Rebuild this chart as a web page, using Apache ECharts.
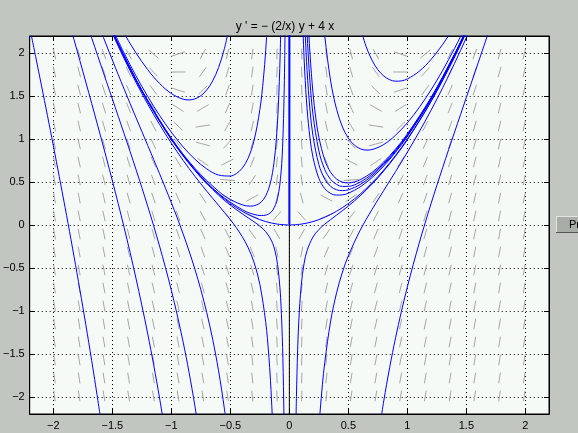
<!DOCTYPE html>
<html><head><meta charset="utf-8">
<script src="https://cdn.jsdelivr.net/npm/echarts@6/dist/echarts.min.js"></script>
<style>html,body{margin:0;padding:0;background:#c1c6c0;}#c{width:578px;height:433px;}</style>
</head><body><div id="c"></div>
<script>
// ---- chart text ----
const titleText = "y ' = \u2212 (2/x) y + 4 x";
const buttonText = "Pr";

// ---- direction field grid (positions and slope angles in degrees) ----
const fieldX = [-1.990,-1.781,-1.571,-1.362,-1.152,-0.943,-0.733,-0.524,-0.314,-0.105,0.105,0.314,0.524,0.733,0.943,1.152,1.362,1.571,1.781,1.990];
const fieldY = [-1.990,-1.781,-1.571,-1.362,-1.152,-0.943,-0.733,-0.524,-0.314,-0.105,0.105,0.314,0.524,0.733,0.943,1.152,1.362,1.571,1.781,1.990];
// one row per fieldX column, values along fieldY (bottom to top)
const fieldAngle = [
 [-84.3,-84.1,-84.0,-83.9,-83.7,-83.6,-83.4,-83.3,-83.1,-82.9,-82.7,-82.5,-82.3,-82.1,-81.9,-81.6,-81.4,-81.1,-80.8,-80.5],
 [-83.9,-83.7,-83.6,-83.4,-83.2,-83.0,-82.8,-82.6,-82.4,-82.1,-81.9,-81.6,-81.3,-81.0,-80.6,-80.3,-79.9,-79.4,-79.0,-78.4],
 [-83.5,-83.3,-83.1,-82.9,-82.7,-82.4,-82.1,-81.8,-81.5,-81.1,-80.8,-80.4,-79.9,-79.4,-78.9,-78.3,-77.6,-76.9,-76.0,-75.1],
 [-83.2,-82.9,-82.7,-82.4,-82.0,-81.7,-81.3,-80.9,-80.4,-79.9,-79.3,-78.7,-77.9,-77.1,-76.2,-75.1,-73.8,-72.3,-70.6,-68.4],
 [-82.9,-82.6,-82.2,-81.8,-81.4,-80.9,-80.4,-79.7,-79.0,-78.2,-77.3,-76.2,-74.9,-73.3,-71.4,-69.0,-66.0,-62.0,-56.6,-49.1],
 [-82.9,-82.5,-82.0,-81.5,-80.9,-80.2,-79.4,-78.4,-77.3,-75.9,-74.3,-72.1,-69.4,-65.7,-60.5,-53.0,-41.4,-23.7,0.4,24.3],
 [-83.2,-82.7,-82.1,-81.4,-80.7,-79.7,-78.5,-77.1,-75.2,-72.7,-69.3,-64.3,-56.4,-43.0,-19.9,11.8,38.0,53.5,62.5,68.2],
 [-84.1,-83.6,-83.0,-82.2,-81.2,-80.0,-78.5,-76.3,-73.1,-68.2,-59.5,-41.8,-5.4,35.2,56.4,66.5,72.1,75.6,78.0,79.7],
 [-85.9,-85.5,-84.9,-84.2,-83.4,-82.2,-80.4,-77.7,-72.9,-62.5,-30.5,36.6,64.3,73.7,78.1,80.7,82.3,83.5,84.3,85.0],
 [-88.5,-88.3,-88.1,-87.8,-87.4,-86.9,-86.0,-84.5,-81.1,-67.5,57.7,79.8,84.0,85.8,86.7,87.3,87.8,88.1,88.3,88.5],
 [88.5,88.3,88.1,87.8,87.4,86.9,86.0,84.5,81.1,67.5,-57.7,-79.8,-84.0,-85.8,-86.7,-87.3,-87.8,-88.1,-88.3,-88.5],
 [85.9,85.5,84.9,84.2,83.4,82.2,80.4,77.7,72.9,62.5,30.5,-36.6,-64.3,-73.7,-78.1,-80.7,-82.3,-83.5,-84.3,-85.0],
 [84.1,83.6,83.0,82.2,81.2,80.0,78.5,76.3,73.1,68.2,59.5,41.8,5.4,-35.2,-56.4,-66.5,-72.1,-75.6,-78.0,-79.7],
 [83.2,82.7,82.1,81.4,80.7,79.7,78.5,77.1,75.2,72.7,69.3,64.3,56.4,43.0,19.9,-11.8,-38.0,-53.5,-62.5,-68.2],
 [82.9,82.5,82.0,81.5,80.9,80.2,79.4,78.4,77.3,75.9,74.3,72.1,69.4,65.7,60.5,53.0,41.4,23.7,-0.4,-24.3],
 [82.9,82.6,82.2,81.8,81.4,80.9,80.4,79.7,79.0,78.2,77.3,76.2,74.9,73.3,71.4,69.0,66.0,62.0,56.6,49.1],
 [83.2,82.9,82.7,82.4,82.0,81.7,81.3,80.9,80.4,79.9,79.3,78.7,77.9,77.1,76.2,75.1,73.8,72.3,70.6,68.4],
 [83.5,83.3,83.1,82.9,82.7,82.4,82.1,81.8,81.5,81.1,80.8,80.4,79.9,79.4,78.9,78.3,77.6,76.9,76.0,75.1],
 [83.9,83.7,83.6,83.4,83.2,83.0,82.8,82.6,82.4,82.1,81.9,81.6,81.3,81.0,80.6,80.3,79.9,79.4,79.0,78.4],
 [84.3,84.1,84.0,83.9,83.7,83.6,83.4,83.3,83.1,82.9,82.7,82.5,82.3,82.1,81.9,81.6,81.4,81.1,80.8,80.5]
];

// ---- solution curves, points [x, y] ----
const solA = [[-2.2,2.30],[-2.15,1.962],[-2.1,1.62],[-2.05,1.276],[-2.0,0.925],[-1.9,0.203],[-1.85,-0.171],[-1.8,-0.556],[-1.75,-0.954],[-1.7,-1.366],[-1.65,-1.796],[-1.6,-2.245]];
const solB = [[-1.9,2.53],[-1.85,2.283],[-1.8,2.036],[-1.75,1.789],[-1.7,1.541],[-1.65,1.29],[-1.6,1.037],[-1.55,0.779],[-1.5,0.517],[-1.45,0.248],[-1.4,-0.03],[-1.35,-0.317],[-1.3,-0.618],[-1.25,-0.934],[-1.2,-1.268],[-1.15,-1.626],[-1.1,-2.013],[-1.05,-2.435]];
const solC = [[-1.8,2.697],[-1.7,2.281],[-1.65,2.076],[-1.6,1.873],[-1.55,1.67],[-1.5,1.468],[-1.45,1.266],[-1.4,1.062],[-1.35,0.857],[-1.3,0.649],[-1.25,0.436],[-1.2,0.218],[-1.15,-0.008],[-1.1,-0.245],[-1.05,-0.494],[-1.0,-0.76],[-0.95,-1.048],[-0.9,-1.363],[-0.85,-1.714],[-0.8,-2.11],[-0.75,-2.566]];
const solD = [[-1.7,2.634],[-1.6,2.271],[-1.5,1.921],[-1.4,1.582],[-1.3,1.252],[-1.2,0.926],[-1.1,0.598],[-1.0,0.26],[-0.95,0.083],[-0.9,-0.104],[-0.85,-0.302],[-0.8,-0.516],[-0.75,-0.753],[-0.7,-1.02],[-0.65,-1.329],[-0.6,-1.696],[-0.55,-2.144],[-0.5,-2.71]];
const solE = [[-1.4,2.230],[-1.3,2.004],[-1.2,1.808],[-1.1,1.648],[-1.0,1.53],[-0.9,1.464],[-0.85,1.456],[-0.8,1.468],[-0.75,1.505],[-0.7,1.572],[-0.65,1.677],[-0.6,1.832],[-0.55,2.055],[-0.5,2.37]];
const solF = [[-1.5,2.286],[-1.4,2.001],[-1.3,1.737],[-1.2,1.496],[-1.1,1.276],[-1.0,1.08],[-0.9,0.909],[-0.8,0.765],[-0.7,0.653],[-0.6,0.582],[-0.5,0.57],[-0.45,0.598],[-0.4,0.66],[-0.35,0.776],[-0.3,0.979],[-0.25,1.343],[-0.22,1.701],[-0.2,2.04],[-0.18,2.50]];
const solK = [[-1.5,2.229],[-1.4,1.936],[-1.3,1.662],[-1.2,1.407],[-1.1,1.171],[-1.0,0.953],[-0.9,0.752],[-0.8,0.567],[-0.7,0.394],[-0.6,0.229],[-0.5,0.062],[-0.45,-0.03],[-0.4,-0.134],[-0.35,-0.261],[-0.3,-0.432],[-0.25,-0.69],[-0.2,-1.135],[-0.175,-1.504],[-0.16,-1.81],[-0.145,-2.214],[-0.14,-2.378]];
const solL = [[-1.5,2.248],[-1.3,1.687],[-1.2,1.437],[-1.0,0.995],[-0.8,0.633],[-0.6,0.347],[-0.5,0.231],[-0.4,0.131],[-0.3,0.038],[-0.25,-0.013],[-0.2,-0.078],[-0.15,-0.186],[-0.12,-0.312],[-0.1,-0.46],[-0.08,-0.728],[-0.07,-0.954],[-0.06,-1.302],[-0.055,-1.551],[-0.05,-1.878],[-0.046,-2.219],[-0.044,-2.426]];
const solM = [[-1.5,2.255],[-1.3,1.697],[-1.2,1.448],[-1.0,1.012],[-0.8,0.659],[-0.6,0.393],[-0.5,0.298],[-0.4,0.235],[-0.33,0.219],[-0.28,0.232],[-0.24,0.266],[-0.2,0.34],[-0.16,0.494],[-0.13,0.727],[-0.11,1.004],[-0.095,1.339],[-0.085,1.668],[-0.078,1.979],[-0.073,2.257]];
const solN = [[-1.5,2.251],[-1.3,1.692],[-1.0,1.003],[-0.8,0.645],[-0.6,0.368],[-0.4,0.179],[-0.3,0.123],[-0.234,0.11],[-0.18,0.125],[-0.14,0.173],[-0.1,0.31],[-0.07,0.617],[-0.055,0.995],[-0.045,1.484],[-0.04,1.877],[-0.036,2.316]];
const solZeroLeft = [[-1.5,2.25],[-1.4,1.96],[-1.3,1.69],[-1.2,1.44],[-1.1,1.21],[-1.0,1.0],[-0.9,0.81],[-0.8,0.64],[-0.7,0.49],[-0.6,0.36],[-0.5,0.25],[-0.4,0.16],[-0.3,0.09],[-0.2,0.04],[-0.1,0.01],[0,0]];
const solH = [[0.75,-2.495],[0.8,-2.048],[0.85,-1.658],[0.9,-1.313],[0.95,-1.003],[1.0,-0.72],[1.05,-0.458],[1.1,-0.212],[1.15,0.022],[1.2,0.246],[1.25,0.462],[1.3,0.672],[1.35,0.879],[1.4,1.082],[1.45,1.284],[1.5,1.486],[1.55,1.687],[1.6,1.888],[1.65,2.091],[1.7,2.295]];
const solG = [[0.6,2.304],[0.65,2.079],[0.7,1.919],[0.75,1.807],[0.8,1.734],[0.85,1.691],[0.9,1.674],[0.95,1.678],[1.0,1.70],[1.1,1.789],[1.2,1.926],[1.3,2.104],[1.35,2.207],[1.4,2.317]];
const solI = [[0.28,2.502],[0.3,2.201],[0.35,1.674],[0.4,1.348],[0.45,1.141],[0.5,1.01],[0.55,0.931],[0.6,0.888],[0.65,0.872],[0.7,0.878],[0.8,0.937],[0.9,1.045],[1.0,1.19],[1.1,1.367],[1.2,1.572],[1.3,1.802],[1.4,2.057],[1.45,2.193],[1.5,2.334]];
const solU1 = [[0.11,2.491],[0.115,2.281],[0.12,2.098],[0.13,1.792],[0.15,1.356],[0.175,1.01],[0.2,0.79],[0.25,0.543],[0.3,0.423],[0.35,0.367],[0.4,0.348],[0.45,0.351],[0.5,0.37],[0.6,0.443],[0.7,0.551],[0.8,0.687],[0.9,0.847],[1.0,1.03],[1.2,1.461],[1.4,1.975],[1.5,2.263]];
const solU2 = [[0.12,2.792],[0.135,2.213],[0.15,1.80],[0.175,1.337],[0.2,1.04],[0.25,0.703],[0.3,0.534],[0.35,0.449],[0.4,0.41],[0.45,0.40],[0.5,0.41],[0.6,0.471],[0.7,0.572],[0.8,0.703],[0.9,0.859],[1.0,1.04],[1.2,1.468],[1.4,1.98],[1.5,2.268]];
const solU3 = [[0.14,2.571],[0.15,2.245],[0.16,1.979],[0.175,1.664],[0.2,1.29],[0.25,0.863],[0.3,0.646],[0.35,0.531],[0.4,0.473],[0.45,0.449],[0.5,0.45],[0.6,0.499],[0.7,0.592],[0.8,0.718],[0.9,0.872],[1.0,1.05],[1.2,1.475],[1.4,1.986],[1.5,2.272]];
const solU4 = [[0.15,2.689],[0.165,2.231],[0.175,1.99],[0.2,1.54],[0.225,1.236],[0.25,1.023],[0.3,0.757],[0.35,0.612],[0.4,0.535],[0.45,0.499],[0.5,0.49],[0.55,0.501],[0.6,0.527],[0.7,0.612],[0.8,0.734],[0.9,0.884],[1.0,1.06],[1.2,1.482],[1.4,1.991],[1.5,2.277]];
const solR1 = [[0.25,-2.37],[0.26,-2.181],[0.28,-1.86],[0.3,-1.599],[0.35,-1.118],[0.4,-0.79],[0.45,-0.548],[0.5,-0.358],[0.6,-0.062],[0.7,0.18],[0.8,0.403],[0.9,0.622],[1.0,0.848],[1.1,1.084],[1.2,1.334],[1.3,1.60],[1.4,1.882],[1.5,2.182],[1.55,2.339]];
const solR2 = [[0.055,-2.377],[0.06,-1.996],[0.07,-1.465],[0.08,-1.119],[0.1,-0.71],[0.125,-0.445],[0.15,-0.298],[0.2,-0.14],[0.25,-0.053],[0.3,0.01],[0.4,0.115],[0.5,0.221],[0.6,0.34],[0.7,0.475],[0.8,0.629],[0.9,0.801],[1.0,0.993],[1.2,1.435],[1.4,1.956],[1.5,2.247]];
const solZero = [[0,0],[0.1,0.01],[0.2,0.04],[0.3,0.09],[0.4,0.16],[0.5,0.25],[0.6,0.36],[0.7,0.49],[0.8,0.64],[0.9,0.81],[1.0,1.0],[1.1,1.21],[1.2,1.44],[1.3,1.69],[1.4,1.96],[1.5,2.25]];
const solVert = [[0,2.3],[0,0.01]];
const solVertLow = [[0,0],[0,-2.3]];

const blueCurves = [solA,solB,solC,solD,solE,solF,solK,solL,solM,solN,solZeroLeft,solH,solG,solI,solU1,solU2,solU3,solU4,solR1,solR2,solZero];

// ---- build ----
const fieldData = [];
for (let i = 0; i < fieldX.length; i++) {
  for (let j = 0; j < fieldY.length; j++) {
    fieldData.push([fieldX[i], fieldY[j], fieldAngle[i][j]]);
  }
}
const DASH = 0.125; // dash length in data units
const FONT = '"Liberation Sans", Arial, Helvetica, sans-serif';
const fmt = v => (v < 0 ? '\u2212' : '') + String(Math.abs(Math.round(v*10)/10));

const gridLine = {show:true, lineStyle:{color:'#000', width:1, type:[1,3]}};
const baseAxis = {
  type:'value', min:-2.2, max:2.2, splitNumber:9,
  axisLine:{show:true, onZero:false, lineStyle:{color:'#000', width:1}},
  axisTick:{show:true, inside:true, length:5, lineStyle:{color:'#000'}},
  axisLabel:{show:true, color:'#000', fontFamily:FONT, fontSize:11, formatter:fmt, showMinLabel:false, showMaxLabel:false},
  splitLine:gridLine
};
function axis(extra){ return Object.assign({}, JSON.parse(JSON.stringify(baseAxis)), {axisLabel:Object.assign({}, baseAxis.axisLabel)}, extra); }

const series = [];
series.push({
  type:'custom', xAxisIndex:0, yAxisIndex:0, data:fieldData, silent:true, animation:false, z:1, clip:true,
  renderItem:function(params, api){
    const x = api.value(0), y = api.value(1), a = api.value(2) * Math.PI / 180;
    const h = DASH / 2;
    const p1 = api.coord([x - h*Math.cos(a), y - h*Math.sin(a)]);
    const p2 = api.coord([x + h*Math.cos(a), y + h*Math.sin(a)]);
    return {type:'line', shape:{x1:p1[0], y1:p1[1], x2:p2[0], y2:p2[1]}, style:{stroke:'#a6a6a6', lineWidth:1}};
  }
});
blueCurves.forEach(d => series.push({
  type:'line', data:d, showSymbol:false, smooth:0.35, silent:true, animation:false, clip:true, z:3,
  lineStyle:{color:'#0000ff', width:1}
}));
series.push({type:'line', data:solVert, showSymbol:false, silent:true, animation:false, clip:true, z:3, lineStyle:{color:'#0000ff', width:2}});
series.push({type:'line', data:solVertLow, showSymbol:false, silent:true, animation:false, clip:true, z:3, lineStyle:{color:'#000000', width:1}});

const chart = echarts.init(document.getElementById('c'), null, {renderer:'canvas'});
chart.setOption({
  backgroundColor:'#c1c6c0',
  animation:false,
  grid:{left:25, right:29, top:36, bottom:19, show:true, backgroundColor:'#f6faf6', borderColor:'#000', borderWidth:1},
  xAxis:[
    axis({position:'bottom', axisLabel:Object.assign({}, baseAxis.axisLabel, {margin:6})}),
    axis({position:'top', axisLabel:{show:false}, splitLine:{show:false}})
  ],
  yAxis:[
    axis({position:'left', axisLabel:Object.assign({}, baseAxis.axisLabel, {margin:5})}),
    axis({position:'right', axisLabel:{show:false}, splitLine:{show:false}})
  ],
  graphic:[
    {type:'text', x:285, y:27, z:10, style:{text:titleText, fill:'#000', font:'12px ' + FONT, align:'center', verticalAlign:'middle'}},
    {type:'rect', shape:{x:556, y:216, width:30, height:17}, z:10, style:{fill:'#a9ada7', stroke:null}},
    {type:'line', shape:{x1:556, y1:216.5, x2:586, y2:216.5}, z:11, style:{stroke:'#e2e6e0', lineWidth:1}},
    {type:'line', shape:{x1:556.5, y1:216, x2:556.5, y2:233}, z:11, style:{stroke:'#e2e6e0', lineWidth:1}},
    {type:'line', shape:{x1:556, y1:232.5, x2:586, y2:232.5}, z:11, style:{stroke:'#555', lineWidth:1}},
    {type:'text', x:569, y:225, z:12, style:{text:buttonText, fill:'#000', font:'11px ' + FONT, align:'left', verticalAlign:'middle'}}
  ],
  series:series
});
</script></body></html>
